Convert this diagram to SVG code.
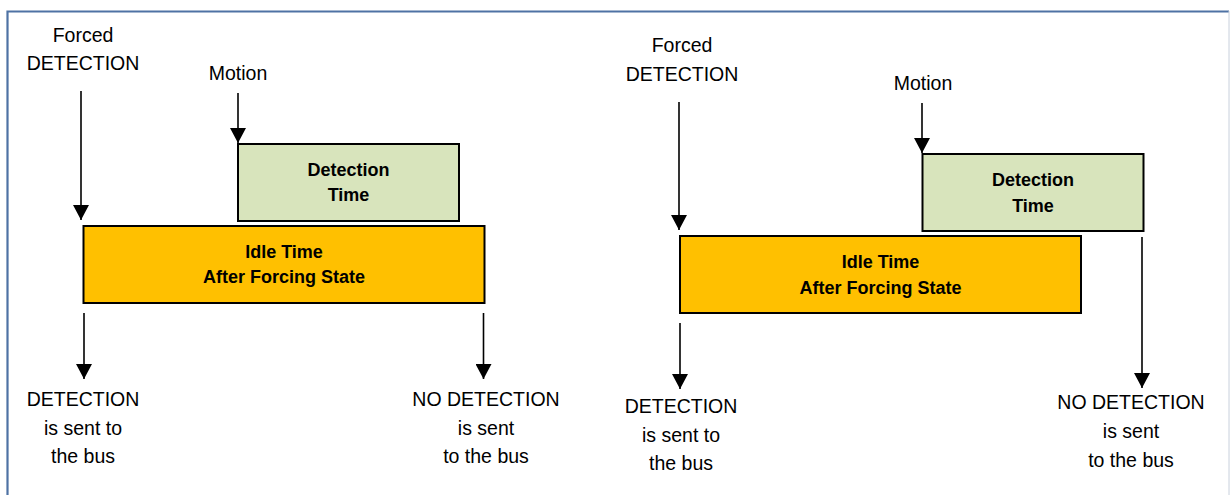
<svg xmlns="http://www.w3.org/2000/svg" width="1230" height="495" viewBox="0 0 1230 495">
<style>
.t{font-family:"Liberation Sans",Arial,sans-serif;font-size:19.5px;fill:#000;text-anchor:middle}
.b{font-family:"Liberation Sans",Arial,sans-serif;font-size:18px;font-weight:bold;fill:#000;text-anchor:middle}
.green{fill:#D8E4BC;stroke:#000;stroke-width:2}
.orange{fill:#FFC000;stroke:#000;stroke-width:2}
.c{stroke:#000;stroke-width:1.6;fill:none;marker-end:url(#ah)}
</style>
<defs>
<marker id="ah" markerUnits="userSpaceOnUse" markerWidth="16" markerHeight="16" refX="8" refY="15" orient="0" viewBox="0 0 16 16">
<path d="M0,0 L16,0 L8,15 Z" fill="#000"/>
</marker>
</defs>
<rect width="1230" height="495" fill="#fff"/>
<path id="frame" d="M7.5,496 L7.5,11.5 L1229,11.5" fill="none" stroke="#4E72A4" stroke-width="2.2"/>
<line x1="1229" y1="11" x2="1229" y2="495" stroke="#C8D0DC" stroke-width="1"/>

<g id="left-detection-time">
<rect class="green" x="238" y="144" width="221" height="77"/>
<text class="b" x="348.5" y="176">Detection</text>
<text class="b" x="348.5" y="201">Time</text>
</g>
<g id="left-idle-time">
<rect class="orange" x="83.5" y="226" width="401" height="77"/>
<text class="b" x="284" y="258">Idle Time</text>
<text class="b" x="284" y="283">After Forcing State</text>
</g>
<g id="left-forced">
<text class="t" x="83" y="42">Forced</text>
<text class="t" x="83" y="70">DETECTION</text>
</g>
<g id="left-motion">
<text class="t" x="238" y="80">Motion</text>
</g>
<g id="left-out-detection">
<text class="t" x="83" y="406">DETECTION</text>
<text class="t" x="83" y="435">is sent to</text>
<text class="t" x="83" y="463">the bus</text>
</g>
<g id="left-out-nodetection">
<text class="t" x="486" y="406">NO DETECTION</text>
<text class="t" x="486" y="435">is sent</text>
<text class="t" x="486" y="463">to the bus</text>
</g>

<g id="right-detection-time">
<rect class="green" x="922.5" y="154" width="221" height="77"/>
<text class="b" x="1033" y="186">Detection</text>
<text class="b" x="1033" y="212">Time</text>
</g>
<g id="right-idle-time">
<rect class="orange" x="680" y="236" width="401" height="77"/>
<text class="b" x="880.5" y="268">Idle Time</text>
<text class="b" x="880.5" y="294">After Forcing State</text>
</g>
<g id="right-forced">
<text class="t" x="682" y="52">Forced</text>
<text class="t" x="682" y="81">DETECTION</text>
</g>
<g id="right-motion">
<text class="t" x="923" y="90">Motion</text>
</g>
<g id="right-out-detection">
<text class="t" x="681" y="413">DETECTION</text>
<text class="t" x="681" y="442">is sent to</text>
<text class="t" x="681" y="470">the bus</text>
</g>
<g id="right-out-nodetection">
<text class="t" x="1131" y="409">NO DETECTION</text>
<text class="t" x="1131" y="438">is sent</text>
<text class="t" x="1131" y="467">to the bus</text>
</g>

<g id="connectors">
<line class="c" x1="81" y1="91" x2="81" y2="220"/>
<line class="c" x1="238" y1="93" x2="238" y2="143"/>
<line class="c" x1="84" y1="313" x2="84" y2="379"/>
<line class="c" x1="483.5" y1="313" x2="483.5" y2="379"/>
<line class="c" x1="679" y1="102" x2="679" y2="230"/>
<line class="c" x1="922" y1="103" x2="922" y2="153"/>
<line class="c" x1="680" y1="323" x2="680" y2="389"/>
<line class="c" x1="1142" y1="237" x2="1142" y2="388"/>
</g>
</svg>
